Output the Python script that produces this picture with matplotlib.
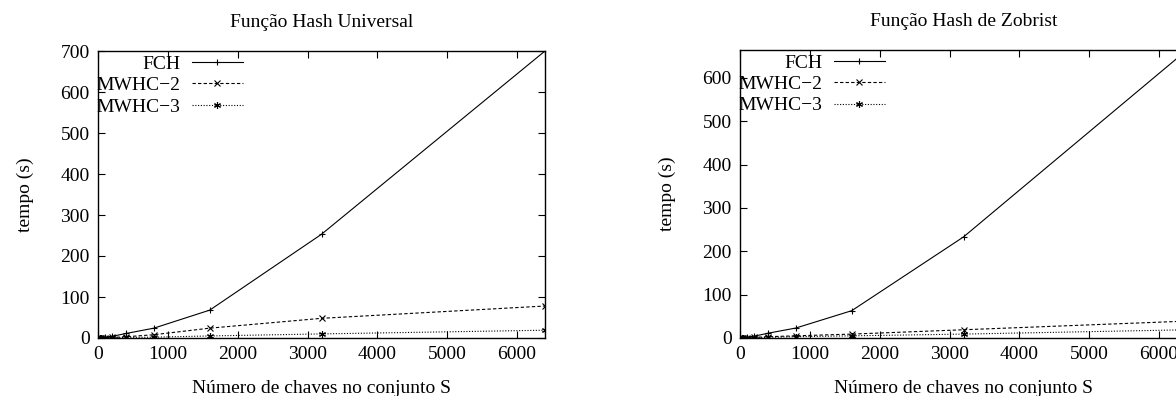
import matplotlib.pyplot as plt

plt.rcParams['font.family'] = ['Liberation Serif', 'DejaVu Serif']
plt.rcParams['font.size'] = 14

# número de chaves
chaves = [25, 50, 100, 200, 400, 800, 1600, 3200, 6400]

# Função Hash Universal
univ_fch = [0.5, 1, 2, 4, 11, 24, 68, 253, 700]
univ_mwhc2 = [0.2, 0.4, 0.8, 1.5, 3, 8, 24, 48, 78]
univ_mwhc3 = [0.1, 0.2, 0.4, 0.8, 1.5, 2, 5, 10, 19]

# Função Hash de Zobrist
zob_fch = [0.5, 1, 2, 4, 11, 23, 63, 233, 664]
zob_mwhc2 = [0.2, 0.4, 0.8, 1.5, 3, 5, 9, 19, 39]
zob_mwhc3 = [0.1, 0.2, 0.4, 0.8, 1.5, 3, 5, 9, 19]

fig = plt.figure(figsize=(11.76, 3.96), dpi=100)

paineis = [
    ([98 / 1176, 58 / 396, 447 / 1176, 287 / 396], 'Função Hash Universal',
     univ_fch, univ_mwhc2, univ_mwhc3, [0, 100, 200, 300, 400, 500, 600, 700]),
    ([740 / 1176, 58 / 396, 447 / 1176, 288 / 396], 'Função Hash de Zobrist',
     zob_fch, zob_mwhc2, zob_mwhc3, [0, 100, 200, 300, 400, 500, 600]),
]

for rect, titulo, fch, mw2, mw3, yticks in paineis:
    ax = fig.add_axes(rect)
    ax.plot(chaves, fch, color='black', linestyle='-', linewidth=0.8,
            marker='+', markersize=5, markeredgewidth=0.8, label='FCH')
    ax.plot(chaves, mw2, color='black', linestyle=(0, (3, 2)), linewidth=0.8,
            marker='x', markersize=4, markeredgewidth=0.8, label='MWHC\u22122')
    ax.plot(chaves, mw3, color='black', linestyle=(0, (1, 1.5)), linewidth=0.8,
            marker=(6, 2, 0), markersize=5, markeredgewidth=0.8, label='MWHC\u22123')
    ax.set_xlim(0, 6400)
    ax.set_ylim(0, max(fch))
    ax.set_xticks([0, 1000, 2000, 3000, 4000, 5000, 6000])
    ax.set_yticks(yticks)
    ax.tick_params(direction='in', top=True, right=True, length=5, width=0.8,
                   pad=6, labelsize=14)
    for s in ax.spines.values():
        s.set_linewidth(1.0)
    ax.set_title(titulo, fontsize=14, pad=17)
    ax.set_xlabel('Número de chaves no conjunto S', fontsize=14, labelpad=12)
    ax.set_ylabel('tempo (s)', fontsize=14, labelpad=19)
    ax.legend(loc='upper left', bbox_to_anchor=(-0.012, 1.0), frameon=False,
              markerfirst=False, handlelength=2.6, handletextpad=0.6,
              labelspacing=0.2, borderaxespad=0.1, borderpad=0.1, fontsize=14)

fig.savefig('out.png', dpi=100)
